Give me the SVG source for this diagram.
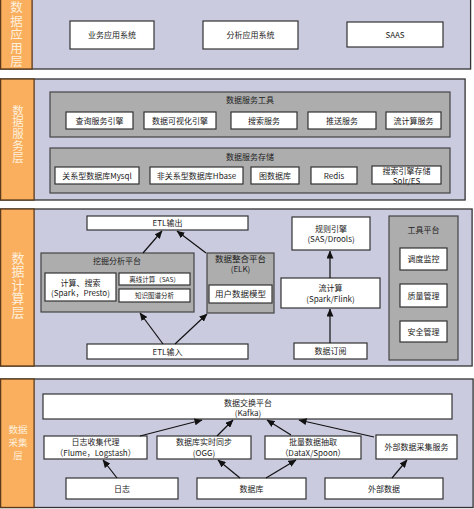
<svg xmlns="http://www.w3.org/2000/svg" width="474" height="509" viewBox="0 0 474 509">
<style>
text{font-family:"Noto Sans CJK SC","Liberation Sans",sans-serif;fill:#222;text-anchor:middle}
.lay{fill:#CBCBE0;stroke:#333;stroke-width:1.3}
.side{fill:#FAAF5F;stroke:#5a3a1a;stroke-width:1.3}
.lbl{fill:#FFF0DC}
.vt{writing-mode:vertical-rl;text-orientation:upright}
.box{fill:#fff;stroke:#333;stroke-width:1.2}
.pan{fill:#ADADAD;stroke:#444;stroke-width:1.2}
.t{font-size:8px}
.s{font-size:6.5px}
.conn line{stroke:#111;stroke-width:1.2;marker-end:url(#ah)}
</style>
<defs>
<marker id="ah" markerUnits="userSpaceOnUse" markerWidth="8" markerHeight="7" refX="7.5" refY="3.5" orient="auto">
<path d="M0,0 L8,3.5 L0,7 z" fill="#111"/>
</marker>
</defs>
<rect width="474" height="509" fill="#fff"/>

<!-- Layer 1 -->
<g id="layer-app">
<rect class="lay" x="0.6" y="-1" width="470" height="70"/>
<rect class="side" x="0.6" y="-1" width="31.5" height="70"/>
<text class="lbl vt" style="font-size:12.5px;letter-spacing:1px" x="16.5" y="35">数据应用层</text>
</g>
<g id="n-yewu"><rect class="box" x="70" y="21" width="84" height="28"/><text class="t" x="112" y="38">业务应用系统</text></g>
<g id="n-fenxi"><rect class="box" x="203" y="21" width="95" height="28"/><text class="t" x="250.5" y="38">分析应用系统</text></g>
<g id="n-saas"><rect class="box" x="347" y="22" width="96" height="25"/><text class="t" x="395" y="37.5">SAAS</text></g>

<!-- Layer 2 -->
<g id="layer-service">
<rect class="lay" x="0.6" y="79" width="464.5" height="121"/>
<rect class="side" x="0.6" y="79" width="33.5" height="121"/>
<text class="lbl vt" style="font-size:11.5px;letter-spacing:0.3px" x="18" y="134">数据服务层</text>
</g>
<g id="p-tools"><rect class="pan" x="50" y="92" width="400" height="45"/><text class="t" x="250" y="103">数据服务工具</text></g>
<g id="n-chaxun"><rect class="box" x="66" y="112" width="67" height="17"/><text class="t" x="99.5" y="123.5">查询服务引擎</text></g>
<g id="n-keshihua"><rect class="box" x="144" y="112" width="72" height="17"/><text class="t" x="180" y="123.5">数据可视化引擎</text></g>
<g id="n-sousuo"><rect class="box" x="231" y="112" width="66" height="17"/><text class="t" x="264" y="123.5">搜索服务</text></g>
<g id="n-tuisong"><rect class="box" x="308" y="112" width="68" height="17"/><text class="t" x="342" y="123.5">推送服务</text></g>
<g id="n-liujisuan-fw"><rect class="box" x="386" y="112" width="55" height="17"/><text class="t" x="413.5" y="123.5">流计算服务</text></g>
<g id="p-storage"><rect class="pan" x="50" y="148" width="400" height="45"/><text class="t" x="250" y="160">数据服务存储</text></g>
<g id="n-mysql"><rect class="box" x="55" y="167" width="84" height="17"/><text class="t" x="97" y="178.5">关系型数据库Mysql</text></g>
<g id="n-hbase"><rect class="box" x="150" y="167" width="93" height="17"/><text class="t" x="196.5" y="178.5">非关系型数据库Hbase</text></g>
<g id="n-graph"><rect class="box" x="251" y="167" width="48" height="17"/><text class="t" x="275" y="178.5">图数据库</text></g>
<g id="n-redis"><rect class="box" x="311" y="167" width="46" height="17"/><text class="t" x="334" y="178.5">Redis</text></g>
<g id="n-solr"><rect class="box" x="372" y="166" width="69" height="18"/><text class="t"><tspan x="406.5" y="173.5">搜索引擎存储</tspan><tspan x="406.5" y="183.5">Solr/ES</tspan></text></g>

<!-- Layer 3 -->
<g id="layer-compute">
<rect class="lay" x="0.6" y="209" width="471.5" height="157"/>
<rect class="side" x="0.6" y="209" width="33.5" height="157"/>
<text class="lbl vt" style="font-size:13px;letter-spacing:0.5px" x="18" y="285">数据计算层</text>
</g>
<g id="n-etl-out"><rect class="box" x="87" y="216" width="161" height="14"/><text class="t" x="167.5" y="226">ETL输出</text></g>
<g id="p-wajue"><rect class="pan" x="41" y="253" width="153" height="59"/><text class="t" x="117" y="264">挖掘分析平台</text></g>
<g id="n-jisuan"><rect class="box" x="45" y="273" width="71" height="28"/><text class="t"><tspan x="80.5" y="286">计算、搜索</tspan><tspan x="80.5" y="296">(Spark，Presto)</tspan></text></g>
<g id="n-lixian"><rect class="box" x="119" y="273" width="71" height="12"/><text class="s" x="154.5" y="281.5">离线计算（SAS）</text></g>
<g id="n-zhishi"><rect class="box" x="119" y="289" width="71" height="13"/><text class="s" x="154.5" y="298">知识图谱分析</text></g>
<g id="p-zhenghe"><rect class="pan" x="207" y="253" width="67" height="60"/><text class="t"><tspan x="240.5" y="262" style="font-size:8.5px">数据整合平台</tspan><tspan x="240.5" y="271.5">(ELK)</tspan></text></g>
<g id="n-yonghu"><rect class="box" x="209" y="285" width="63" height="18"/><text class="t" style="font-size:8.5px" x="240.5" y="297">用户数据模型</text></g>
<g id="n-etl-in"><rect class="box" x="87" y="344" width="161" height="15"/><text class="t" x="167.5" y="354.5">ETL输入</text></g>
<g id="n-guize"><rect class="box" x="292" y="217" width="78" height="33"/><text class="t"><tspan x="331" y="231.5">规则引擎</tspan><tspan x="331" y="242">(SAS/Drools)</tspan></text></g>
<g id="n-liujisuan"><rect class="box" x="281" y="278" width="99" height="30"/><text class="t"><tspan x="330.5" y="291">流计算</tspan><tspan x="330.5" y="302">(Spark/Flink)</tspan></text></g>
<g id="n-dingyue"><rect class="box" x="294" y="343" width="73" height="16"/><text class="t" x="330.5" y="354">数据订阅</text></g>
<g id="p-gongju"><rect class="pan" x="389" y="216" width="69" height="144"/><text class="t" x="423.5" y="233">工具平台</text></g>
<g id="n-diaodu"><rect class="box" x="400" y="248" width="47" height="22"/><text class="t" x="423.5" y="262">调度监控</text></g>
<g id="n-zhiliang"><rect class="box" x="400" y="284" width="47" height="23"/><text class="t" x="423.5" y="298.5">质量管理</text></g>
<g id="n-anquan"><rect class="box" x="400" y="321" width="47" height="21"/><text class="t" x="423.5" y="334.5">安全管理</text></g>

<!-- Layer 4 -->
<g id="layer-collect">
<rect class="lay" x="0.6" y="379" width="472.5" height="128.5"/>
<rect class="side" x="0.6" y="379" width="33.5" height="128.5"/>
<text class="lbl" style="font-size:9.5px"><tspan x="18" y="432.5">数据</tspan><tspan x="18" y="445.5">采集</tspan><tspan x="18" y="458.5">层</tspan></text>
</g>
<g id="n-kafka"><rect class="box" x="43" y="394" width="409" height="25"/><text class="t"><tspan x="248" y="406">数据交换平台</tspan><tspan x="248" y="416">(Kafka)</tspan></text></g>
<g id="n-rizhi-daili"><rect class="box" x="44" y="436" width="103" height="23"/><text class="t"><tspan x="95.5" y="445">日志收集代理</tspan><tspan x="95.5" y="456">（Flume，Logstash）</tspan></text></g>
<g id="n-ogg"><rect class="box" x="157" y="436" width="94" height="23"/><text class="t"><tspan x="204" y="445">数据库实时同步</tspan><tspan x="204" y="456">(OGG)</tspan></text></g>
<g id="n-datax"><rect class="box" x="265" y="436" width="96" height="23"/><text class="t"><tspan x="313" y="445">批量数据抽取</tspan><tspan x="313" y="456">（DataX/Spoon）</tspan></text></g>
<g id="n-waibu-fw"><rect class="box" x="376" y="435" width="81" height="24"/><text class="t" x="416.5" y="450">外部数据采集服务</text></g>
<g id="n-rizhi"><rect class="box" x="66" y="478" width="112" height="21"/><text class="t" x="122" y="491.5">日志</text></g>
<g id="n-shujuku"><rect class="box" x="197" y="478" width="109" height="21"/><text class="t" x="251.5" y="491.5">数据库</text></g>
<g id="n-waibu"><rect class="box" x="325" y="478" width="118" height="21"/><text class="t" x="384" y="491.5">外部数据</text></g>

<g id="connectors" class="conn">
<line x1="143" y1="253" x2="162" y2="231"/>
<line x1="206" y1="253" x2="177" y2="231"/>
<line x1="163" y1="344" x2="140" y2="313"/>
<line x1="175" y1="344" x2="207" y2="314"/>
<line x1="330" y1="343" x2="330" y2="309"/>
<line x1="330" y1="278" x2="330" y2="251"/>
<line x1="117" y1="478" x2="103" y2="460"/>
<line x1="140" y1="436" x2="202" y2="420"/>
<line x1="217" y1="436" x2="233" y2="420"/>
<line x1="240" y1="478" x2="218" y2="460"/>
<line x1="266" y1="478" x2="296" y2="460"/>
<line x1="291" y1="435" x2="267" y2="420"/>
<line x1="374" y1="437" x2="299" y2="420"/>
<line x1="392" y1="478" x2="407" y2="460"/>
</g>
</svg>
